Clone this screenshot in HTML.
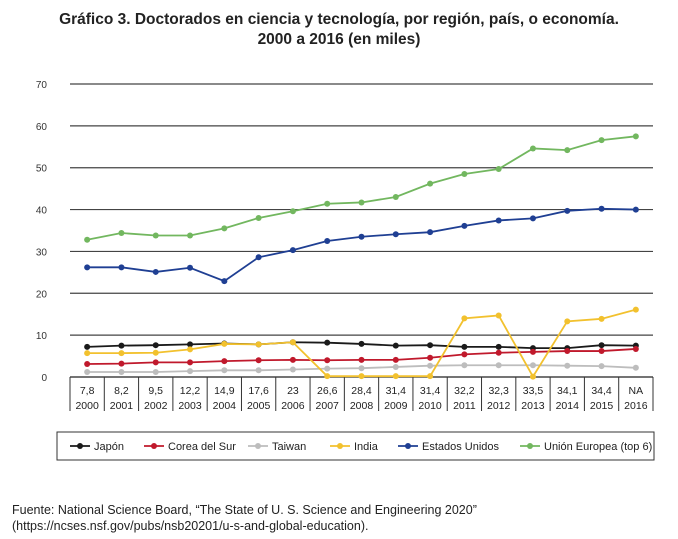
<!DOCTYPE html>
<html><head><meta charset="utf-8"><style>
body{margin:0;background:#fff;font-family:"Liberation Sans",Arial,sans-serif;}
#wrap{position:relative;width:678px;height:539px;overflow:hidden;}
.title{position:absolute;left:0;width:678px;top:10px;text-align:center;font-weight:bold;font-size:15.5px;line-height:20px;color:#222;}
.src{position:absolute;left:12px;top:502px;font-size:12.5px;line-height:16px;color:#222;}
</style></head><body>
<div id="wrap">
<div class="title">Gráfico 3. Doctorados en ciencia y tecnología, por región, país, o economía.<br>2000 a 2016 (en miles)</div>
<svg id="svg" width="678" height="539" style="position:absolute;left:0;top:0"></svg>
<div class="src">Fuente: National Science Board, “The State of U. S. Science and Engineering 2020”<br>(https://ncses.nsf.gov/pubs/nsb20201/u-s-and-global-education).</div>
</div>
<script>
const years=["2000","2001","2002","2003","2004","2005","2006","2007","2008","2009","2010","2011","2012","2013","2014","2015","2016"];
const topLabels=["7,8","8,2","9,5","12,2","14,9","17,6","23","26,6","28,4","31,4","31,4","32,2","32,3","33,5","34,1","34,4","NA"];
const yTicks=[0,10,20,30,40,50,60,70];
const seriesNames=["Japón","Corea del Sur","Taiwan","India","Estados Unidos","Unión Europea (top 6)"];
const seriesColors=["#1a1a1a","#c0192c","#bdbdbd","#f2c12e","#1f3f93","#72b75f"];
const japon=[7.2,7.5,7.6,7.8,8,7.8,8.3,8.2,7.9,7.5,7.6,7.2,7.2,6.9,6.9,7.6,7.5];
const corea=[3.1,3.2,3.5,3.5,3.8,4,4.1,4,4.1,4.1,4.6,5.4,5.8,6,6.2,6.2,6.7];
const taiwan=[1.2,1.2,1.2,1.4,1.6,1.6,1.8,2,2.1,2.4,2.7,2.8,2.8,2.8,2.7,2.6,2.2];
const india=[5.7,5.7,5.8,6.6,7.9,7.8,8.3,0.2,0.2,0.2,0.2,14,14.7,0.1,13.3,13.9,16.1];
const usa=[26.2,26.2,25.1,26.1,22.9,28.6,30.3,32.5,33.5,34.1,34.6,36.1,37.4,37.9,39.7,40.2,40];
const eu=[32.8,34.4,33.8,33.8,35.5,38,39.6,41.4,41.7,43,46.2,48.5,49.7,54.6,54.2,56.6,57.5];
const allSeries=[japon,corea,taiwan,india,usa,eu];
const seriesKeys=["japon","corea","taiwan","india","usa","eu"];

const svg=document.getElementById('svg');const NS="http://www.w3.org/2000/svg";
const L=70,R=653,Y0=377,Ytop=84;
const colW=(R-L)/years.length;
const x=i=>L+colW*(i+0.5);
const y=v=>Y0-(v/70)*(Y0-Ytop);
function mk(t,a,p){const e=document.createElementNS(NS,t);for(const k in a)e.setAttribute(k,a[k]);(p||svg).appendChild(e);return e;}
yTicks.forEach(v=>{
 if(v>0){const g=mk('line',{x1:L,x2:R,y1:y(v),y2:y(v),stroke:'#444','stroke-width':1.2});
 
 }
 const t=mk('text',{x:47,y:y(v)+4,'font-size':10,fill:'#333','text-anchor':'end'});t.textContent=v;
 
 
});
const ax=mk('line',{x1:L,x2:R,y1:Y0,y2:Y0,stroke:'#222','stroke-width':1.2});


for(let i=0;i<=years.length;i++){const d=mk('line',{x1:L+colW*i,x2:L+colW*i,y1:Y0,y2:411,stroke:'#333','stroke-width':1});
 
 }
years.forEach((yr,i)=>{
 const a=mk('text',{x:x(i),y:394,'font-size':10.5,fill:'#222','text-anchor':'middle'});a.textContent=topLabels[i];
 
 
 const b=mk('text',{x:x(i),y:409,'font-size':10.5,fill:'#222','text-anchor':'middle'});b.textContent=yr;
 
 
});
allSeries.forEach((s,k)=>{
 const pl=mk('polyline',{points:s.map((v,i)=>x(i)+','+y(v)).join(' '),fill:'none',stroke:seriesColors[k],'stroke-width':1.8});
 
 
 s.forEach((v,i)=>{const c=mk('circle',{cx:x(i),cy:y(v),r:3,fill:seriesColors[k]});
  
  });
});
const lb=mk('rect',{x:57,y:432,width:597,height:28,fill:'none',stroke:'#333','stroke-width':1});


const lx=[70,144,248,330,398,520];
seriesNames.forEach((n,k)=>{
 const g=mk('g',{});
 
 
 mk('line',{x1:lx[k],x2:lx[k]+20,y1:446,y2:446,stroke:seriesColors[k],'stroke-width':1.8},g);
 mk('circle',{cx:lx[k]+10,cy:446,r:3,fill:seriesColors[k]},g);
 const t=mk('text',{x:lx[k]+24,y:450,'font-size':11,fill:'#222'},g);t.textContent=n;
});
</script>
</body></html>
